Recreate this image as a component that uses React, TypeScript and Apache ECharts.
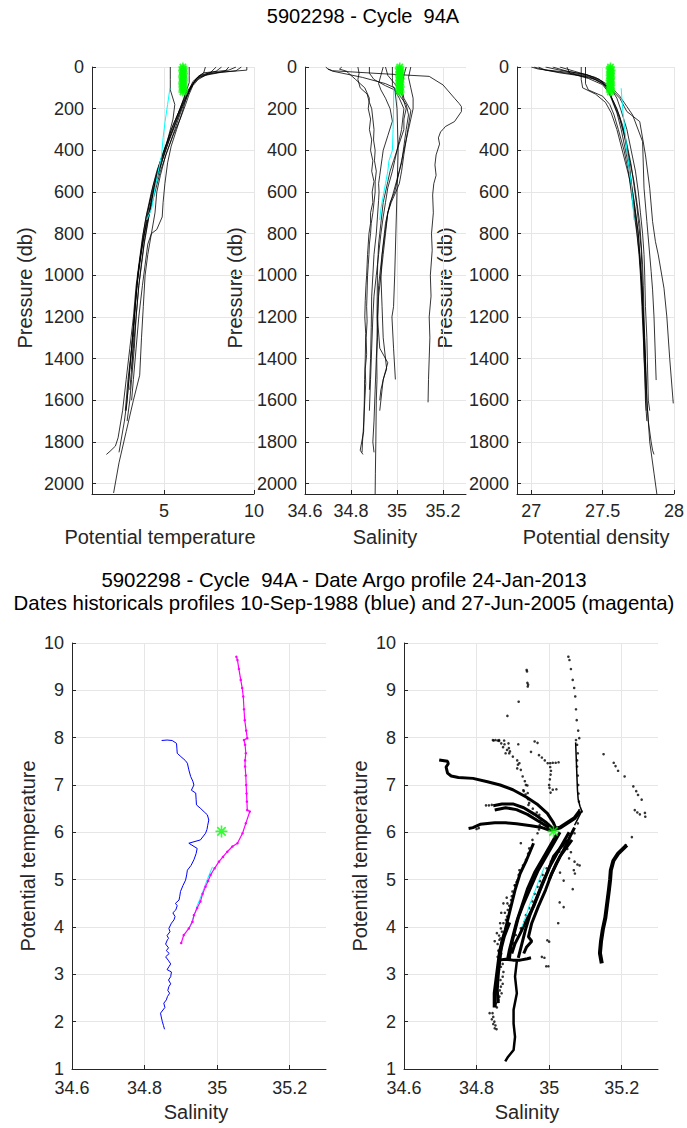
import React, { useEffect, useRef } from "react";
import * as echarts from "echarts";

const FONT = "'Liberation Sans', Arial, Helvetica, sans-serif";
const AXIS_COLOR = "#262626";
const GRID_COLOR = "#e6e6e6";

const PRESSURE_TICKS = [0, 200, 400, 600, 800, 1000, 1200, 1400, 1600, 1800, 2000];
const TEMP_TICKS = [5, 10];
const SAL_TICKS = [34.6, 34.8, 35, 35.2];
const DENS_TICKS = [27, 27.5, 28];
const THETA_TICKS = [1, 2, 3, 4, 5, 6, 7, 8, 9, 10];

const TITLE_TOP = "5902298 - Cycle  94A";
const TITLE_BOTTOM_1 = "5902298 - Cycle  94A - Date Argo profile 24-Jan-2013";
const TITLE_BOTTOM_2 = "Dates historicals profiles 10-Sep-1988 (blue) and 27-Jun-2005 (magenta)";

// Historical profiles: [potential temperature, pressure]
const TEMP_PROFILES = [
  [[9.6,0],[9.6,15],[8.2,25],[7.3,40],[6.9,60],[6.6,90],[6.4,130],[6.2,180],[5.9,250],[5.5,330],[5.1,420],[4.8,520],[4.6,600],[4.5,700],[4.3,800],[4.1,900],[3.95,1000],[3.85,1150],[3.75,1300],[3.65,1480],[3.3,1600],[2.9,1750],[2.5,1900],[2.2,2045]],
  [[9.3,0],[9.0,18],[7.6,30],[7.0,50],[6.6,80],[6.4,110],[6.1,160],[5.8,220],[5.4,320],[5.0,420],[4.6,520],[4.3,620],[4.0,720],[3.8,820],[3.6,950],[3.45,1050],[3.3,1200],[3.1,1350],[2.9,1500],[2.7,1650],[2.45,1780],[2.3,1820],[2.0,1845],[1.8,1860]],
  [[8.6,0],[8.4,20],[7.4,35],[6.8,55],[6.5,90],[6.2,130],[5.9,200],[5.5,280],[5.1,380],[4.7,480],[4.4,570],[4.2,650],[4.0,750],[3.8,850],[3.65,950],[3.5,1050],[3.35,1200],[3.2,1350],[3.0,1500],[2.85,1650]],
  [[7.9,0],[7.6,25],[7.0,45],[6.7,70],[6.5,100],[6.3,140],[6.0,200],[5.6,300],[5.2,400],[4.8,500],[4.5,600],[4.2,700],[3.9,800],[3.7,900],[3.55,1000],[3.4,1150],[3.3,1300],[3.2,1450],[3.1,1550]],
  [[6.4,0],[6.4,40],[6.4,75],[6.3,100],[6.1,150],[5.8,220],[5.4,300],[5.0,400],[4.7,480],[4.5,560],[4.3,650],[4.1,750],[3.9,850],[3.75,950],[3.6,1050],[3.45,1200],[3.35,1350],[3.2,1500],[3.1,1600],[2.95,1700]],
  [[5.35,0],[5.35,60],[5.35,110],[5.6,180],[5.5,250],[5.2,350],[4.9,450],[4.6,540],[4.3,640],[4.1,740],[3.9,840],[3.75,940],[3.6,1050],[3.45,1200],[3.3,1350],[3.2,1450]],
  [[8.2,0],[7.9,20],[7.0,40],[6.6,70],[6.4,110],[6.2,160],[6.0,220],[5.7,300],[5.4,380],[5.2,460],[5.05,560],[4.95,650],[4.9,720],[4.6,780],[4.3,800],[4.1,850],[3.95,950],[3.8,1050],[3.6,1200],[3.45,1350],[3.3,1500],[3.2,1600]],
  [[9.0,0],[8.6,15],[7.2,28],[6.9,45],[6.7,70],[6.5,100],[6.2,150],[5.9,210],[5.5,300],[5.0,400],[4.6,500],[4.3,600],[4.05,700],[3.85,800],[3.7,900],[3.55,1000],[3.4,1150],[3.25,1300],[3.1,1450],[2.95,1600],[2.8,1700],[2.6,1800],[2.5,1850]],
  [[7.3,0],[7.2,30],[6.8,55],[6.6,85],[6.3,130],[6.0,190],[5.7,260],[5.3,350],[4.9,450],[4.5,560],[4.25,660],[4.0,760],[3.8,860],[3.6,960],[3.45,1080],[3.3,1250],[3.15,1400],[3.0,1550],[2.9,1650]],
];

// Historical profiles: [salinity, pressure]
const SAL_PROFILES = [
  [[34.69,0],[34.7,10],[34.72,18],[34.9,30],[35.14,45],[35.2,86],[35.25,150],[35.27,175],[35.28,190],[35.28,214],[35.25,262],[35.21,286],[35.2,300],[35.19,310],[35.18,340],[35.185,370],[35.17,422],[35.165,470],[35.17,520],[35.16,560],[35.155,614],[35.158,700],[35.15,800],[35.153,880],[35.145,1000],[35.148,1100],[35.14,1200],[35.143,1300],[35.14,1400],[35.137,1500],[35.135,1610]],
  [[34.7,10],[34.72,20],[34.85,50],[34.95,80],[34.99,100],[35.0,200],[35.005,400],[35.0,600],[34.995,800],[34.99,1000],[34.985,1150],[34.978,1200],[34.985,1350],[34.993,1500]],
  [[34.76,0],[34.75,10],[34.78,20],[34.8,40],[34.82,60],[34.84,80],[34.86,100],[34.87,125],[34.88,150],[34.875,200],[34.885,250],[34.88,300],[34.89,350],[34.885,400],[34.895,450],[34.89,500],[34.9,550],[34.892,600],[34.895,650],[34.885,700],[34.885,750],[34.878,800],[34.875,850],[34.872,900],[34.87,950],[34.868,1000],[34.865,1050],[34.862,1120],[34.86,1200],[34.864,1280],[34.862,1400],[34.859,1500],[34.858,1600],[34.856,1680],[34.855,1750],[34.845,1810],[34.84,1840],[34.852,1860]],
  [[34.83,0],[34.835,30],[34.83,60],[34.84,100],[34.87,130],[34.88,170],[34.89,200],[34.895,250],[34.9,300],[34.898,350],[34.905,400],[34.902,450],[34.91,500],[34.905,550],[34.905,600],[34.9,650],[34.895,700],[34.888,750],[34.885,800],[34.88,850],[34.878,900],[34.875,950],[34.872,1000],[34.87,1080],[34.868,1150],[34.87,1220],[34.866,1300],[34.868,1380],[34.862,1450],[34.864,1520],[34.86,1600],[34.856,1700],[34.85,1800],[34.848,1850]],
  [[34.95,0],[34.96,40],[34.99,80],[35.02,130],[35.04,200],[35.03,250],[35.03,300],[35.015,350],[35.0,400],[34.985,450],[34.97,500],[34.96,550],[34.95,600],[34.94,650],[34.935,700],[34.93,750],[34.925,800],[34.92,850],[34.918,900],[34.916,950],[34.915,1000],[34.914,1100],[34.913,1200],[34.915,1300],[34.912,1400],[34.913,1500],[34.91,1600],[34.909,1700],[34.908,1800],[34.906,1950],[34.905,2050]],
  [[35.06,0],[35.05,50],[35.06,100],[35.07,150],[35.07,200],[35.06,250],[35.05,300],[35.04,350],[35.03,400],[35.02,450],[35.01,500],[35.0,550],[34.99,600],[34.97,650],[34.96,700],[34.95,750],[34.945,800],[34.94,850],[34.935,900],[34.93,1000],[34.935,1150],[34.94,1300],[34.95,1400],[34.955,1450],[34.94,1500],[34.93,1600],[34.925,1650]],
  [[34.88,0],[34.88,30],[34.9,60],[34.95,90],[34.99,110],[35.01,150],[35.03,200],[35.025,250],[35.02,300],[35.01,350],[35.0,400],[34.99,450],[34.98,500],[34.96,580],[34.95,650],[34.94,720],[34.93,800],[34.925,850],[34.92,900],[34.915,950],[34.91,1000],[34.9,1100],[34.895,1200],[34.89,1350],[34.885,1500],[34.88,1650]],
  [[34.98,0],[34.98,50],[34.98,90],[35.0,120],[35.04,180],[35.05,230],[35.04,300],[35.03,380],[35.02,460],[35.0,540],[34.98,620],[34.96,700],[34.95,780],[34.94,860],[34.93,950],[34.92,1050],[34.915,1200],[34.925,1350],[34.96,1420],[34.945,1480],[34.93,1550],[34.925,1600]],
  [[34.94,0],[34.93,40],[34.92,80],[34.93,110],[34.95,150],[34.97,200],[34.98,260],[34.96,330],[34.94,400],[34.935,440],[34.93,480],[34.925,520],[34.92,560],[34.922,600],[34.92,640],[34.915,720],[34.91,800],[34.905,850],[34.9,900],[34.895,1000],[34.89,1100],[34.888,1250],[34.885,1400],[34.88,1550]],
  [[35.04,0],[35.03,40],[35.02,100],[35.03,150],[35.06,210],[35.05,280],[35.04,350],[35.03,420],[35.02,500],[35.01,560],[34.995,600],[34.975,650],[34.96,700],[34.95,800],[34.94,900],[34.93,1000],[34.92,1100],[34.915,1250],[34.91,1400],[34.905,1550],[34.9,1700],[34.895,1800],[34.9,1850]],
];

// Historical profiles: [potential density, pressure]
const DENS_PROFILES = [
  [[27.05,0],[27.1,15],[27.3,35],[27.45,60],[27.55,100],[27.62,150],[27.67,214],[27.76,262],[27.8,422],[27.83,582],[27.85,742],[27.87,838],[27.89,902],[27.93,1062],[27.95,1200],[27.97,1400],[27.995,1615]],
  [[27.2,0],[27.3,20],[27.45,50],[27.55,90],[27.62,140],[27.67,190],[27.71,230],[27.78,358],[27.79,582],[27.81,742],[27.84,982],[27.85,1070],[27.86,1200],[27.87,1400],[27.875,1503]],
  [[27.0,0],[27.05,10],[27.25,25],[27.4,45],[27.5,80],[27.55,120],[27.58,180],[27.62,250],[27.66,350],[27.69,450],[27.72,550],[27.74,650],[27.76,750],[27.77,850],[27.78,950],[27.785,1050],[27.79,1200],[27.8,1400],[27.81,1600],[27.83,1800],[27.86,1950],[27.88,2050]],
  [[27.1,0],[27.2,15],[27.38,35],[27.48,60],[27.53,100],[27.56,150],[27.6,220],[27.63,300],[27.66,400],[27.69,500],[27.71,600],[27.73,700],[27.75,800],[27.76,900],[27.77,1000],[27.78,1150],[27.79,1300],[27.8,1450],[27.81,1600],[27.82,1700],[27.84,1800],[27.85,1840],[27.86,1860]],
  [[27.35,0],[27.35,60],[27.36,100],[27.45,130],[27.52,170],[27.56,220],[27.6,300],[27.63,380],[27.66,460],[27.69,540],[27.71,620],[27.73,720],[27.745,820],[27.76,920],[27.77,1020],[27.78,1150],[27.79,1300],[27.8,1450]],
  [[27.38,0],[27.38,80],[27.4,110],[27.5,140],[27.55,180],[27.58,230],[27.61,300],[27.65,400],[27.68,500],[27.7,600],[27.72,700],[27.74,800],[27.755,900],[27.765,1000],[27.775,1150],[27.785,1300],[27.795,1450],[27.8,1600],[27.81,1700]],
  [[27.15,0],[27.25,20],[27.4,40],[27.5,70],[27.54,110],[27.57,160],[27.6,200],[27.64,280],[27.67,370],[27.7,470],[27.72,570],[27.74,670],[27.755,770],[27.77,870],[27.775,970],[27.78,1080],[27.79,1250],[27.8,1400],[27.805,1550]],
  [[27.02,0],[27.08,12],[27.2,28],[27.42,50],[27.5,75],[27.56,105],[27.6,150],[27.63,210],[27.67,300],[27.7,400],[27.73,500],[27.75,600],[27.765,700],[27.78,800],[27.79,900],[27.795,1000],[27.8,1150],[27.81,1300],[27.815,1450],[27.82,1600],[27.83,1650]],
  [[27.25,0],[27.27,30],[27.4,55],[27.5,85],[27.54,120],[27.58,170],[27.62,240],[27.65,320],[27.67,400],[27.69,480],[27.7,560],[27.72,640],[27.735,720],[27.75,800],[27.76,900],[27.77,1000],[27.78,1100],[27.785,1250],[27.79,1400],[27.8,1550],[27.805,1650]],
];

// Argo profile (cyan)
const CYAN_TEMP = [[5.33,102],[5.2,180],[5.06,262],[4.95,340],[4.87,422],[4.68,502],[4.5,582],[4.32,678],[4.04,734]];
const CYAN_SAL = [[34.986,102],[34.985,200],[34.983,300],[34.98,400],[34.965,450],[34.96,500],[34.95,560],[34.94,620],[34.93,680],[34.925,734]];
const CYAN_DENS = [[27.63,102],[27.64,200],[27.655,300],[27.67,400],[27.685,480],[27.7,560],[27.71,640],[27.72,734]];
const CYAN_TS = [[34.987,5.27],[34.978,5.1],[34.97,4.95],[34.962,4.78],[34.953,4.6],[34.945,4.45],[34.94,4.32],[34.932,4.15],[34.925,4.0]];

// Green reference points
const STAR_TEMP = [[6.05,0],[6.07,8],[6.04,16],[6.06,24],[6.08,32],[6.05,40],[6.04,48],[6.06,56],[6.07,64],[6.05,72],[6.04,80],[6.06,88],[6.05,96],[6.07,104],[6.06,112],[6.05,120]];
const STAR_SAL = [[35.012,0],[35.01,8],[35.014,16],[35.011,24],[35.013,32],[35.01,40],[35.012,48],[35.014,56],[35.011,64],[35.013,72],[35.01,80],[35.012,88],[35.014,96],[35.011,104],[35.012,112],[35.013,120]];
const STAR_DENS = [[27.555,0],[27.552,8],[27.558,16],[27.554,24],[27.556,32],[27.553,40],[27.557,48],[27.555,56],[27.552,64],[27.556,72],[27.554,80],[27.557,88],[27.553,96],[27.555,104],[27.556,112],[27.554,120]];
const STAR_TS = [[35.012, 6.02]];

// Historical theta-S profiles
const BLUE_TS = [[34.847,7.94],[34.862,7.95],[34.876,7.94],[34.888,7.88],[34.889,7.78],[34.89,7.67],[34.9,7.6],[34.912,7.52],[34.918,7.46],[34.922,7.32],[34.927,7.18],[34.933,7.08],[34.936,7.0],[34.929,6.89],[34.941,6.83],[34.942,6.7],[34.943,6.58],[34.955,6.5],[34.966,6.42],[34.973,6.37],[34.977,6.26],[34.974,6.15],[34.972,6.06],[34.968,5.98],[34.954,5.84],[34.922,5.77],[34.945,5.66],[34.942,5.55],[34.936,5.42],[34.928,5.3],[34.918,5.2],[34.916,5.1],[34.913,4.99],[34.906,4.88],[34.899,4.75],[34.897,4.65],[34.895,4.57],[34.885,4.5],[34.89,4.45],[34.886,4.36],[34.878,4.3],[34.884,4.22],[34.881,4.15],[34.874,4.08],[34.867,3.97],[34.87,3.9],[34.862,3.82],[34.866,3.76],[34.863,3.73],[34.858,3.64],[34.866,3.56],[34.86,3.5],[34.868,3.44],[34.858,3.37],[34.865,3.3],[34.872,3.22],[34.867,3.16],[34.862,3.1],[34.874,3.05],[34.872,2.95],[34.866,2.88],[34.872,2.8],[34.867,2.74],[34.864,2.66],[34.869,2.6],[34.863,2.53],[34.86,2.46],[34.853,2.39],[34.856,2.3],[34.844,2.18],[34.846,2.1],[34.849,2.0],[34.852,1.92],[34.855,1.84]];
const MAGENTA_TS = [[35.053,9.71],[35.056,9.64],[35.06,9.45],[35.065,9.22],[35.069,9.05],[35.072,8.87],[35.074,8.6],[35.076,8.37],[35.08,8.15],[35.083,7.99],[35.074,7.95],[35.077,7.85],[35.079,7.67],[35.077,7.52],[35.077,7.39],[35.079,7.2],[35.08,7.0],[35.081,6.82],[35.082,6.65],[35.083,6.47],[35.09,6.44],[35.079,6.19],[35.07,5.98],[35.056,5.77],[35.042,5.7],[35.028,5.59],[35.016,5.48],[35.005,5.38],[34.993,5.24],[34.982,5.1],[34.975,4.97],[34.968,4.85],[34.96,4.7],[34.954,4.54],[34.945,4.4],[34.936,4.25],[34.932,4.11],[34.922,3.97],[34.908,3.83],[34.901,3.66]];

// All historical theta-S data (dense tracks)
const HIST_TRACKS = [
  [[34.697,7.53],[34.72,7.5],[34.722,7.45],[34.716,7.38],[34.72,7.25],[34.73,7.19],[34.75,7.16],[34.79,7.14],[34.83,7.07],[34.865,7.0],[34.9,6.9],[34.938,6.74],[34.966,6.6],[34.995,6.4],[35.012,6.2],[35.02,6.05]],
  [[34.846,6.56],[34.87,6.6],[34.9,6.6],[34.93,6.52],[34.96,6.38],[34.99,6.22],[35.01,6.08]],
  [[34.85,6.47],[34.88,6.52],[34.91,6.48],[34.94,6.38],[34.97,6.24],[35.0,6.1]],
  [[34.778,6.08],[34.79,6.1],[34.81,6.17],[34.85,6.2],[34.88,6.2],[34.91,6.18],[34.95,6.14],[34.98,6.1],[35.0,6.05]],
  [[35.0,6.05],[35.03,6.1],[35.05,6.2],[35.07,6.3],[35.085,6.45]],
  [[34.957,5.77],[34.938,5.42],[34.92,5.13],[34.906,4.78],[34.897,4.5],[34.888,4.22],[34.879,3.94],[34.869,3.65],[34.865,3.37],[34.86,3.02],[34.857,2.67],[34.86,2.39]],
  [[35.03,6.0],[35.0,5.6],[34.97,5.2],[34.95,4.85],[34.93,4.5],[34.915,4.2],[34.905,3.9],[34.895,3.6],[34.89,3.3]],
  [[35.02,5.95],[34.99,5.55],[34.96,5.15],[34.94,4.8],[34.925,4.45],[34.91,4.1],[34.9,3.8],[34.89,3.5],[34.885,3.3]],
  [[35.049,5.84],[35.012,5.49],[34.994,5.13],[34.975,4.78],[34.957,4.43],[34.938,4.15],[34.92,3.86],[34.906,3.65],[34.897,3.44]],
  [[35.055,6.0],[35.025,5.6],[35.0,5.25],[34.98,4.9],[34.962,4.55],[34.947,4.25],[34.935,3.95],[34.925,3.65],[34.915,3.35]],
  [[35.063,5.84],[35.03,5.49],[35.007,5.13],[34.99,4.78],[34.97,4.43],[34.952,4.08],[34.943,3.79],[34.952,3.7],[34.938,3.58],[34.93,3.44]],
  [[35.07,6.1],[35.06,5.95],[35.045,5.7],[35.02,5.35],[35.0,5.0]],
  [[34.89,4.1],[34.875,3.8],[34.865,3.5],[34.86,3.2],[34.855,2.9],[34.85,2.6],[34.85,2.3]],
  [[34.86,3.3],[34.88,3.32],[34.9,3.3],[34.92,3.3],[34.94,3.33],[34.95,3.35]],
  [[34.911,3.28],[34.906,2.95],[34.911,2.6],[34.902,2.25],[34.902,1.96],[34.906,1.68],[34.902,1.4],[34.887,1.26],[34.879,1.16]],
  [[35.214,5.73],[35.19,5.55],[35.177,5.4],[35.17,5.2],[35.168,5.0],[35.165,4.8],[35.16,4.5],[35.155,4.2],[35.148,3.95],[35.143,3.7],[35.14,3.45],[35.145,3.23]],
  [[35.073,7.9],[35.074,7.7],[35.075,7.5],[35.076,7.3],[35.077,7.1],[35.078,6.9],[35.08,6.7],[35.085,6.55],[35.09,6.45],[35.08,6.3],[35.07,6.15]],
];
const HIST_TRACK_WIDTHS = [3, 3, 3, 3, 4, 3, 3, 3, 3, 3, 3, 3, 4, 3, 2.5, 4, 1.5];

// Scattered historical theta-S samples
const HIST_DOTS = [
  [34.938,9.43],[34.939,9.4],[34.94,9.16],[34.942,9.12],[34.941,9.08],[34.916,8.76],[34.885,8.46],
  [34.845,7.95],[34.852,7.95],[34.858,7.94],[34.862,7.93],[34.868,7.88],[34.877,7.86],[34.873,7.8],[34.884,7.74],[34.88,7.67],[34.892,7.71],[34.915,7.86],[34.96,7.92],[34.968,7.89],[34.95,7.7],[34.972,7.63],[34.98,7.58],[34.988,7.52],[34.996,7.46],[35.003,7.46],[35.01,7.47],[35.018,7.47],[35.026,7.48],[35.003,7.38],[35.005,7.3],[35.004,7.22],[35.002,7.12],[35.0,7.0],[35.001,6.94],[35.01,6.9],[35.02,6.91],[35.004,6.84],[34.912,7.35],[34.914,7.43],[34.94,6.99],[34.93,6.87],[34.935,6.8],[34.945,6.62],[34.8,6.07],[34.806,6.09],[34.826,6.57],[34.834,6.57],[34.842,6.58],
  [35.15,7.65],[35.178,7.47],[35.183,7.4],[35.19,7.3],[35.208,7.18],[35.232,6.97],[35.24,6.87],[35.245,6.79],[35.255,6.69],[35.236,6.47],[35.243,6.42],[35.25,6.38],[35.264,6.41],[35.265,6.33],[35.228,5.9],[35.211,5.73],
  [35.055,5.45],[35.07,5.38],[35.078,5.32],[35.084,5.3],[35.068,5.2],[35.071,5.13],[35.065,4.8],[35.029,4.52],[35.04,4.42],[35.025,4.08],[34.995,3.72],[35.0,3.69],[34.98,3.37],[34.987,3.35],[34.992,3.17],[34.998,3.17],
  [34.836,2.18],[34.842,2.05],[34.846,1.95],[34.85,1.86],
  [34.91,4.95],[34.905,4.88],[34.883,4.62],[34.874,4.5],[34.868,4.3],[34.865,4.08],[34.856,3.87],[34.85,3.7],
  [35.05,5.65],[35.06,5.58],[35.04,4.98],[35.03,5.15],
];

const STAR_PATH = "path://M5,0L5,10M0,5L10,5M1.5,1.5L8.5,8.5M1.5,8.5L8.5,1.5";

const GRIDS = [
  { left: 92, top: 67, width: 162, height: 427 },
  { left: 305, top: 67, width: 161, height: 427 },
  { left: 517, top: 67, width: 162, height: 427 },
  { left: 72, top: 643, width: 254, height: 426 },
  { left: 404, top: 643, width: 254, height: 426 },
];

function axis(gridIndex: number, min: number, max: number, ticks: number[], extra: any, labelMargin = 8) {
  return {
    type: "value",
    gridIndex,
    min,
    max,
    axisLine: { show: true, onZero: false, lineStyle: { color: AXIS_COLOR, width: 1 } },
    axisTick: { show: true, inside: true, length: 4, customValues: ticks, lineStyle: { color: AXIS_COLOR, width: 1 } },
    axisLabel: {
      show: true, customValues: ticks, color: AXIS_COLOR, fontSize: 18, fontFamily: FONT, margin: labelMargin,
      formatter: (v: number) => String(Math.round(v * 1000) / 1000),
    },
    splitLine: { show: true, lineStyle: { color: GRID_COLOR, width: 1 } },
    ...extra,
  };
}

function line(data: number[][], idx: number, color: string, width: number, z = 2) {
  return {
    type: "line", xAxisIndex: idx, yAxisIndex: idx, data, symbol: "none", showSymbol: false,
    lineStyle: { color, width }, silent: true, z, animation: false,
  };
}

function dots(data: number[][], idx: number, color: string, size: number, z = 2) {
  return {
    type: "scatter", xAxisIndex: idx, yAxisIndex: idx, data, symbol: "circle", symbolSize: size,
    itemStyle: { color }, silent: true, z, animation: false,
  };
}

function stars(data: number[][], idx: number, size: number) {
  return {
    type: "scatter", xAxisIndex: idx, yAxisIndex: idx, data, symbol: STAR_PATH, symbolSize: size,
    itemStyle: { color: "#00ff00", borderColor: "#00ff00", borderWidth: 1.6 }, silent: true, z: 5, animation: false,
  };
}

function text(t: string, x: number, y: number, size: number, rotation = 0, fill = AXIS_COLOR) {
  return {
    type: "text", x, y, rotation, silent: true,
    style: {
      text: t, fontSize: size, fontFamily: FONT, fill,
      textAlign: "center", textVerticalAlign: "middle", align: "center", verticalAlign: "middle",
    },
  };
}

function buildOption() {
  const series: any[] = [];
  TEMP_PROFILES.forEach((p) => series.push(line(p, 0, "#000", 0.8)));
  SAL_PROFILES.forEach((p) => series.push(line(p, 1, "#000", 0.8)));
  DENS_PROFILES.forEach((p) => series.push(line(p, 2, "#000", 0.8)));
  series.push(line(CYAN_TEMP, 0, "#00ffff", 1, 3));
  series.push(line(CYAN_SAL, 1, "#00ffff", 1, 3));
  series.push(line(CYAN_DENS, 2, "#00ffff", 1, 3));
  series.push(stars(STAR_TEMP, 0, 9));
  series.push(stars(STAR_SAL, 1, 9));
  series.push(stars(STAR_DENS, 2, 9));

  series.push(line(BLUE_TS, 3, "#0000ff", 1));
  series.push(line(CYAN_TS, 3, "#00ffff", 1, 2));
  series.push({ ...line(MAGENTA_TS, 3, "#ff00ff", 1.2, 3), symbol: "circle", showSymbol: true, symbolSize: 2.5, itemStyle: { color: "#ff00ff" } });
  series.push(stars(STAR_TS, 3, 12));

  HIST_TRACKS.forEach((t, i) => series.push(line(t, 4, "#000", HIST_TRACK_WIDTHS[i])));
  series.push(dots(HIST_DOTS, 4, "#000", 2.6));
  series.push(dots(BLUE_TS, 4, "#000", 2.6));
  series.push(dots(MAGENTA_TS, 4, "#000", 2.6));
  series.push(line(CYAN_TS, 4, "#00ffff", 1, 3));
  series.push(stars(STAR_TS, 4, 12));

  const topY = (i: number) => axis(i, 0, 2050, PRESSURE_TICKS, { inverse: true, position: "left" });

  return {
    animation: false,
    backgroundColor: "#ffffff",
    textStyle: { fontFamily: FONT },
    grid: GRIDS.map((g) => ({ ...g, containLabel: false })),
    xAxis: [
      axis(0, 1, 10, TEMP_TICKS, { position: "bottom" }),
      axis(1, 34.6, 35.3, SAL_TICKS, { position: "bottom" }),
      axis(2, 26.9, 28, DENS_TICKS, { position: "bottom" }),
      axis(3, 34.6, 35.3, SAL_TICKS, { position: "bottom" }, 10),
      axis(4, 34.6, 35.3, SAL_TICKS, { position: "bottom" }, 10),
    ],
    yAxis: [
      topY(0), topY(1), topY(2),
      axis(3, 1, 10, THETA_TICKS, { position: "left" }),
      axis(4, 1, 10, THETA_TICKS, { position: "left" }),
    ],
    series,
    graphic: [
      text(TITLE_TOP, 363, 16, 20, 0, "#000"),
      text(TITLE_BOTTOM_1, 344, 580, 20.4, 0, "#000"),
      text(TITLE_BOTTOM_2, 344, 603, 20.4, 0, "#000"),
      text("Potential temperature", 160, 537, 20),
      text("Salinity", 385, 537, 20),
      text("Potential density", 596, 537, 20),
      text("Pressure (db)", 25, 288, 20, Math.PI / 2),
      text("Pressure (db)", 235, 288, 20, Math.PI / 2),
      text("Pressure (db)", 445, 288, 20, Math.PI / 2),
      text("Potential temperature", 28, 856, 20, Math.PI / 2),
      text("Potential temperature", 360, 856, 20, Math.PI / 2),
      text("Salinity", 196, 1112, 20),
      text("Salinity", 527, 1112, 20),
    ],
  };
}

export default function App() {
  const ref = useRef<HTMLDivElement>(null);
  useEffect(() => {
    const chart = echarts.init(ref.current as HTMLDivElement, undefined, { renderer: "svg" });
    chart.setOption(buildOption() as any);
    return () => chart.dispose();
  }, []);
  return (
    <div
      ref={ref}
      style={{ position: "fixed", left: 0, top: 0, width: 687, height: 1128, background: "#ffffff" }}
    />
  );
}
